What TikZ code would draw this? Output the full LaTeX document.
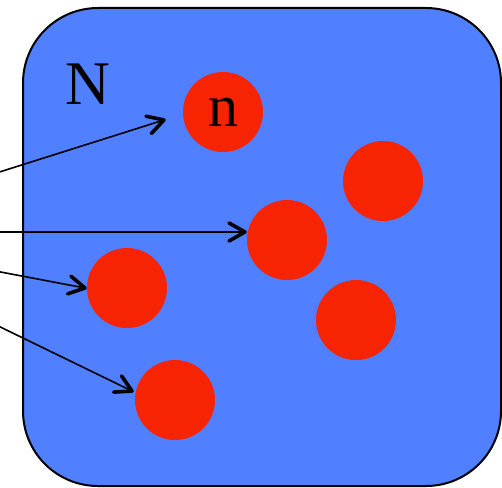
\documentclass[tikz,border=0pt]{standalone}
\usepackage{fontspec}
\setmainfont{Liberation Serif}
\usetikzlibrary{calc}
\definecolor{boxblue}{RGB}{80,128,255}
\definecolor{dotred}{RGB}{246,36,0}
\begin{document}
\begin{tikzpicture}[x=1pt,y=-1pt,
  dot/.style={circle,fill=dotred,minimum size=80pt,inner sep=0pt,font=\fontsize{60}{60}\selectfont},
  tipline/.style={line width=3.6pt,line cap=round,line join=round},
  ptr/.style={line width=1.6pt},
  lbl/.style={font=\fontsize{62}{62}\selectfont,inner sep=0pt}]
\useasboundingbox (0,0) rectangle (502,487);
\path[fill=boxblue,draw=black,line width=2pt,rounded corners=75pt] (23,8) rectangle (501,486);
\node[lbl] (N) at (88,84) {N};
\node[dot] (c1) at (223,112) {n};
\node[dot] (c2) at (287,240) {};
\node[dot] (c3) at (383,181) {};
\node[dot] (c4) at (356,320) {};
\node[dot] (c5) at (127,288) {};
\node[dot] (c6) at (175,400) {};
\coordinate (s1) at (-10,175);
\coordinate (s2) at (-10,232);
\coordinate (s3) at (-10,270);
\coordinate (s4) at (-10,322);
\coordinate (t1) at (164,120);
\coordinate (t2) at (245,232);
\coordinate (t3) at (85,288);
\coordinate (t4) at (132,391);
\foreach \s/\t in {s1/t1,s2/t2,s3/t3,s4/t4}{
  \draw[ptr] (\s) -- (\t);
  \draw[tipline] ($(\t)!16pt!(\s)!9pt!90:(\t)$) -- (\t) -- ($(\t)!16pt!(\s)!9pt!-90:(\t)$);
}
\end{tikzpicture}
\end{document}
